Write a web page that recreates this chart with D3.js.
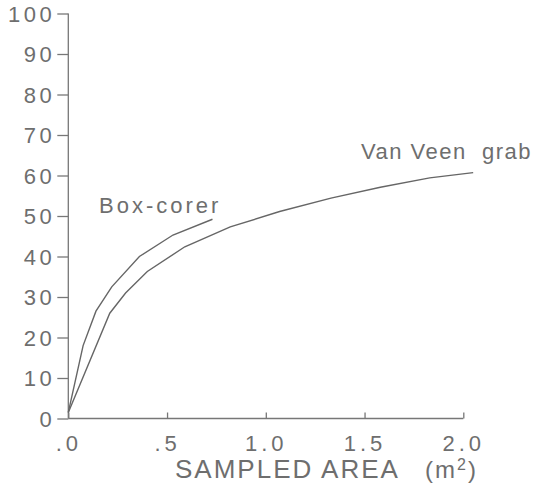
<!DOCTYPE html>
<meta charset="utf-8">
<style>
  body { margin: 0; background: #fff; }
  text { font-family: "Liberation Sans", Arial, sans-serif; fill: #6e6e6e; }
  .axis path, .axis line { stroke: #777; stroke-width: 1.3; fill: none; }
</style>
<body>
<svg id="chart" width="534" height="485"></svg>
<script src="https://d3js.org/d3.v7.min.js"></script>
<script>
  // sampled area (m2) vs. species count
  var boxArea   = [0, 0.075, 0.14, 0.22, 0.36, 0.53, 0.73];
  var boxValues = [1.5, 18, 26.5, 32.5, 40, 45.3, 49.2];
  var vanArea   = [0, 0.21, 0.29, 0.4, 0.59, 0.82, 1.07, 1.33, 1.58, 1.83, 2.05];
  var vanValues = [1.5, 26, 31, 36.3, 42.4, 47.3, 51.1, 54.4, 57.1, 59.4, 60.7];
  var xTicks = [0, 0.5, 1.0, 1.5, 2.0];
  var xTickLabels = [".0", ".5", "1.0", "1.5", "2.0"];
  var yTicks = [0, 10, 20, 30, 40, 50, 60, 70, 80, 90, 100];
  var seriesNames = ["Box-corer", "Van Veen  grab"];

  var svg = d3.select("#chart");

  var x = d3.scaleLinear().domain([0, 2]).range([68.3, 463.3]);
  var y = d3.scaleLinear().domain([0, 100]).range([418.5, 13.5]);

  // x axis, ticks pointing up into the plot
  var gx = svg.append("g")
    .attr("class", "axis")
    .attr("transform", "translate(0," + y(0) + ")")
    .call(d3.axisBottom(x).tickValues(xTicks).tickSize(-6).tickSizeOuter(0)
      .tickFormat(function(d, i) { return xTickLabels[i]; }));
  gx.selectAll("text")
    .attr("y", 32)
    .attr("dy", 0)
    .style("font-size", "22px")
    .style("letter-spacing", "4px");
  gx.select(".domain").attr("d", "M" + x(0) + ",0H" + x(2));

  // y axis
  var gy = svg.append("g")
    .attr("class", "axis")
    .attr("transform", "translate(" + x(0) + ",0)")
    .call(d3.axisLeft(y).tickValues(yTicks).tickSize(11).tickSizeOuter(0));
  gy.selectAll("text")
    .attr("x", -13)
    .attr("dy", "0.36em")
    .style("font-size", "22px")
    .style("letter-spacing", "3.5px");
  gy.select(".domain").attr("d", "M0," + y(0) + "V" + y(100));

  var line = d3.line()
    .x(function(d) { return x(d[0]); })
    .y(function(d) { return y(d[1]); });

  var box = boxArea.map(function(a, i) { return [a, boxValues[i]]; });
  var van = vanArea.map(function(a, i) { return [a, vanValues[i]]; });

  svg.selectAll(".curve")
    .data([box, van])
    .enter().append("path")
    .attr("class", "curve")
    .attr("d", line)
    .attr("fill", "none")
    .attr("stroke", "#666")
    .attr("stroke-width", 1.4);

  svg.append("text")
    .attr("x", 99)
    .attr("y", 213)
    .style("font-size", "22px")
    .style("letter-spacing", "3px")
    .text(seriesNames[0]);

  svg.append("text")
    .attr("x", 361)
    .attr("y", 159)
    .style("font-size", "22px")
    .style("letter-spacing", "1.5px")
    .style("white-space", "pre")
    .text(seriesNames[1]);

  // axis title
  svg.append("text")
    .attr("x", 175)
    .attr("y", 478)
    .style("font-size", "26px")
    .style("letter-spacing", "2px")
    .text("SAMPLED AREA");
  var unit = svg.append("text")
    .attr("x", 425)
    .attr("y", 478)
    .style("font-size", "24px")
    .style("letter-spacing", "2px");
  unit.append("tspan").text("(m");
  unit.append("tspan").attr("dy", -8).style("font-size", "16px").text("2");
  unit.append("tspan").attr("dy", 8).text(")");
</script>
</body>
